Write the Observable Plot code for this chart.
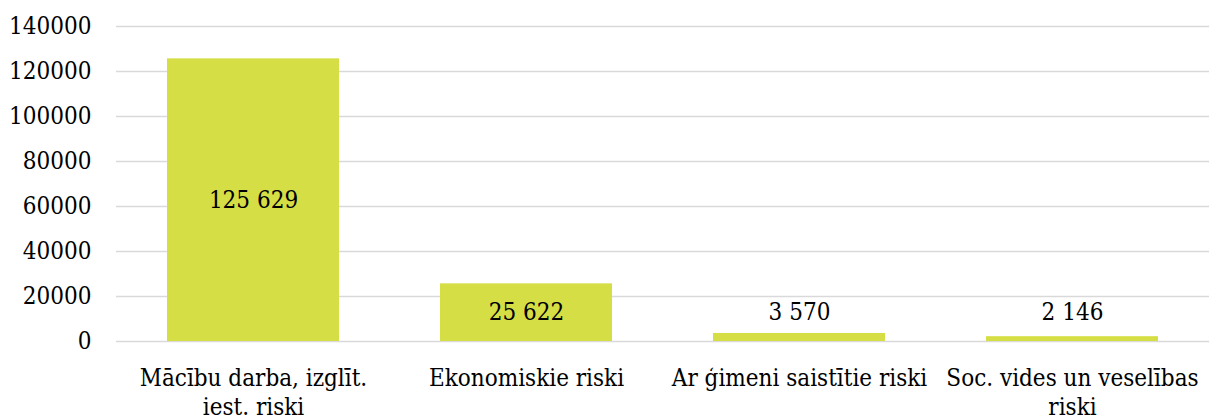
<!DOCTYPE html>
<html>
<head>
<meta charset="utf-8">
<script src="https://cdn.jsdelivr.net/npm/d3@7"></script>
<script src="https://cdn.jsdelivr.net/npm/@observablehq/plot@0.6"></script>
<style>
  html, body { margin: 0; padding: 0; background: #fff; }
  #chart svg { display: block; }
  #chart svg text { font-stretch: condensed; }
</style>
</head>
<body>
<div id="chart"></div>
<script>
const categories = [
  "Mācību darba, izglīt. iest. riski",
  "Ekonomiskie riski",
  "Ar ģimeni saistītie riski",
  "Soc. vides un veselības riski"
];
const tickLabels = [
  "Mācību darba, izglīt.\niest. riski",
  "Ekonomiskie riski",
  "Ar ģimeni saistītie riski",
  "Soc. vides un veselības\nriski"
];
const values = [125629, 25622, 3570, 2146];
const yTicks = [0, 20000, 40000, 60000, 80000, 100000, 120000, 140000];

const data = categories.map((c, i) => ({category: c, value: values[i]}));
const fmt = v => d3.format(",")(v).replace(/,/g, " ");
const font = "'DejaVu Serif Condensed', 'DejaVu Serif', serif";
const fs = 24;

const chart = Plot.plot({
  width: 1209,
  height: 417,
  marginLeft: 116,
  marginRight: 0,
  marginTop: 26,
  marginBottom: 76,
  style: {fontFamily: font, fontSize: fs + "px", color: "#000", background: "#fff"},
  x: {domain: categories, paddingInner: 0.37, paddingOuter: 0.185, label: null},
  y: {domain: [0, 140000], label: null},
  marks: [
    Plot.gridY(yTicks, {stroke: "#d9d9d9", strokeOpacity: 1, strokeWidth: 1.5}),
    Plot.barY(data, {x: "category", y: "value", fill: "#d6de45"}),
    Plot.text(data, {
      x: "category",
      y: d => Math.max(d.value / 2, 12800),
      text: d => fmt(d.value),
      fontSize: fs,
      fontFamily: font,
      fill: "#000"
    }),
    Plot.axisY(yTicks, {
      tickSize: 0, tickPadding: 25, fontSize: fs, fontFamily: font,
      tickFormat: d => String(d), label: null
    }),
    Plot.axisX({
      tickSize: 0, tickPadding: 24, fontSize: fs, fontFamily: font, lineHeight: 1.2,
      tickFormat: d => tickLabels[categories.indexOf(d)], label: null
    })
  ]
});
document.getElementById("chart").appendChild(chart);
</script>
</body>
</html>
